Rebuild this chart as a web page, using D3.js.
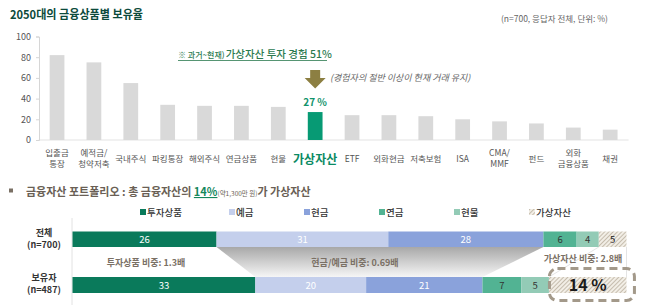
<!DOCTYPE html>
<html>
<head>
<meta charset="utf-8">
<script src="https://d3js.org/d3.v7.min.js"></script>
<style>
  body { margin: 0; background: #fff; }
  text { font-family: "Noto Sans CJK KR", "Noto Sans", sans-serif; }
</style>
</head>
<body>
<script>
  const W = 658, H = 305
  // top chart data
  const categories = ["입출금\n통장", "예적금/\n청약저축", "국내주식", "파킹통장", "해외주식", "연금상품", "현물", "가상자산",
    "ETF", "외화현금", "저축보험", "ISA", "CMA/\nMMF", "펀드", "외화\n금융상품", "채권"]
  const rates = [82, 75, 55, 34, 33, 33, 32, 27, 24, 24, 23, 20, 18, 16, 12, 10]
  const yTicks = [0, 20, 40, 60, 80, 100]
  const highlight = "가상자산"

  // bottom chart data
  const assetTypes = ["투자상품", "예금", "현금", "연금", "현물", "가상자산"]
  const groups = ["전체\n(n=700)", "보유자\n(n=487)"]
  const allShares = [26, 31, 28, 6, 4, 5]
  const holderShares = [33, 20, 21, 7, 5, 14]
  const assetColors = ["#0a7a5b", "#c4cfec", "#8aa2db", "#52b393", "#93cbb6", "url(#hatch)"]
  const labelColors = ["#fff", "#fff", "#fff", "#333", "#333", "#222"]

  const svg = d3.select("body").append("svg").attr("width", W).attr("height", H)
  const defs = svg.append("defs")

  const hatch = defs.append("pattern").attr("id", "hatch").attr("patternUnits", "userSpaceOnUse")
    .attr("width", 3).attr("height", 3).attr("patternTransform", "rotate(45)")
  hatch.append("rect").attr("width", 3).attr("height", 3).attr("fill", "#f2eee6")
  hatch.append("line").attr("x1", 0).attr("y1", 0).attr("x2", 0).attr("y2", 3)
    .attr("stroke", "#a89d88").attr("stroke-width", 1.2)

  const grad = defs.append("linearGradient").attr("id", "funnel").attr("x1", 0).attr("y1", 0).attr("x2", 0).attr("y2", 1)
  grad.append("stop").attr("offset", "0%").attr("stop-color", "#a8a8a8")
  grad.append("stop").attr("offset", "100%").attr("stop-color", "#f6f6f6")

  // ---------- title ----------
  svg.append("text").attr("x", 10).attr("y", 19).attr("font-size", 12).attr("font-weight", 700)
    .attr("fill", "#0c4a3b").attr("textLength", 133).attr("lengthAdjust", "spacingAndGlyphs")
    .text("2050대의 금융상품별 보유율")
  svg.append("text").attr("x", 608).attr("y", 22).attr("text-anchor", "end").attr("font-size", 8.5)
    .attr("fill", "#666").text("(n=700, 응답자 전체, 단위: %)")

  // ---------- top bar chart ----------
  const x = d3.scaleBand().domain(categories).range([38.6, 628.6]).paddingInner(0.6).paddingOuter(0.3)
  const y = d3.scaleLinear().domain([0, 100]).range([140, 36.5])

  svg.append("line").attr("x1", 38.6).attr("x2", 628.6).attr("y1", y(0)).attr("y2", y(0))
    .attr("stroke", "#e3e3e3")

  const yAxis = svg.append("g").attr("transform", "translate(39,0)")
    .call(d3.axisLeft(y).tickValues(yTicks).tickSize(3).tickPadding(5))
  yAxis.select(".domain").attr("stroke", "#d6d6d6")
  yAxis.selectAll(".tick line").attr("stroke", "#d6d6d6")
  yAxis.selectAll("text").attr("font-size", 9).attr("fill", "#555")
    .attr("font-family", "'Noto Sans CJK KR', sans-serif")

  svg.selectAll(".bar").data(categories).join("rect")
    .attr("x", d => x(d)).attr("width", x.bandwidth())
    .attr("y", (d, i) => y(rates[i])).attr("height", (d, i) => y(0) - y(rates[i]))
    .attr("fill", d => d === highlight ? "#079a74" : "#d9d9d9")

  categories.forEach((c, i) => {
    const lines = c.split("\n")
    const cx = x(c) + x.bandwidth() / 2
    const isHi = c === highlight
    const t = svg.append("text").attr("text-anchor", "middle")
      .attr("font-size", isHi ? 12 : 8.5).attr("font-weight", isHi ? 700 : 400)
      .attr("fill", isHi ? "#0a8a63" : "#555")
    const y0 = lines.length === 1 ? (isHi ? 164 : 162) : 156
    lines.forEach((l, k) => t.append("tspan").attr("x", cx).attr("y", y0 + k * 10.5).text(l))
  })

  // highlight annotations
  const hx = x(highlight) + x.bandwidth() / 2
  const hi = categories.indexOf(highlight)
  svg.append("text").attr("x", hx).attr("y", y(rates[hi]) - 6).attr("text-anchor", "middle")
    .attr("font-size", 10).attr("font-weight", 700).attr("fill", "#12936b").text(rates[hi] + " %")

  svg.append("path")
    .attr("d", `M${hx - 5},70 H${hx + 5} V78 H${hx + 10.5} L${hx},88.5 L${hx - 10.5},78 H${hx - 5} Z`)
    .attr("fill", "#8c7f42")
  svg.append("text").attr("x", 330).attr("y", 81).attr("font-size", 9).attr("font-style", "italic")
    .attr("fill", "#666").text("(경험자의 절반 이상이 현재 거래 유지)")

  const note = svg.append("text").attr("x", 178).attr("y", 58).attr("fill", "#2b7a4f").attr("font-weight", 500)
  note.append("tspan").attr("font-size", 8).text("※ 과거~현재)")
  note.append("tspan").attr("font-size", 10.5).attr("dx", 1).text("가상자산 투자 경험 51%")
  svg.append("line").attr("x1", 178).attr("x2", 327).attr("y1", 60.5).attr("y2", 60.5)
    .attr("stroke", "#2b7a4f").attr("stroke-width", 0.8)

  // ---------- bottom header ----------
  svg.append("rect").attr("x", 9).attr("y", 188.5).attr("width", 4).attr("height", 4).attr("fill", "#7a7065")
  const hdr = svg.append("text").attr("x", 26).attr("y", 196).attr("font-size", 11).attr("font-weight", 700)
    .attr("fill", "#6a5f55")
  hdr.append("tspan").text("금융자산 포트폴리오 : 총 금융자산의 ")
  hdr.append("tspan").attr("fill", "#14875c").attr("text-decoration", "underline").text("14%")
  hdr.append("tspan").attr("font-size", 6.5).attr("font-weight", 400).text("(약1,300만 원)")
  hdr.append("tspan").text("가 가상자산")

  // legend
  const legendX = [140, 229, 304, 379, 454, 529]
  assetTypes.forEach((a, i) => {
    svg.append("rect").attr("x", legendX[i]).attr("y", 209).attr("width", 6).attr("height", 6)
      .attr("fill", assetColors[i])
    svg.append("text").attr("x", legendX[i] + 7).attr("y", 216).attr("font-size", 9.5).attr("font-weight", 500)
      .attr("fill", "#333").text(a)
  })

  // ---------- stacked bars ----------
  const xs = d3.scaleLinear().domain([0, 100]).range([72.5, 626.5])
  const rowY = [231.5, 277]
  const rowH = [15.5, 16]
  const rows = [allShares, holderShares]

  svg.append("line").attr("x1", 72).attr("x2", 72).attr("y1", 218).attr("y2", 305).attr("stroke", "#e2e2e2")

  const stacks = rows.map(r => {
    let acc = 0
    return r.map(v => { const s = { x0: acc, x1: acc + v, v }; acc += v; return s })
  })

  // funnel between 예금+현금 spans
  const f0 = stacks[0], f1 = stacks[1]
  svg.append("path")
    .attr("d", `M${xs(f0[1].x0)},${rowY[0] + rowH[0]} L${xs(f0[2].x1)},${rowY[0] + rowH[0]} L${xs(f1[2].x1)},${rowY[1]} L${xs(f1[1].x0)},${rowY[1]} Z`)
    .attr("fill", "url(#funnel)")
  svg.append("line").attr("x1", xs(f0[5].x0)).attr("y1", rowY[0] + rowH[0]).attr("x2", xs(f1[5].x0)).attr("y2", rowY[1])
    .attr("stroke", "#e4e4e4")
  svg.append("line").attr("x1", xs(f0[5].x1)).attr("y1", rowY[0] + rowH[0]).attr("x2", xs(f1[5].x1)).attr("y2", rowY[1])
    .attr("stroke", "#e4e4e4")

  stacks.forEach((st, r) => {
    svg.append("g").selectAll("rect").data(st).join("rect")
      .attr("x", d => xs(d.x0)).attr("width", d => xs(d.x1) - xs(d.x0))
      .attr("y", rowY[r]).attr("height", rowH[r])
      .attr("fill", (d, i) => assetColors[i])
    st.forEach((d, i) => {
      if (r === 1 && i === 5) return
      svg.append("text").attr("x", (xs(d.x0) + xs(d.x1)) / 2).attr("y", rowY[r] + rowH[r] / 2 + 3.5)
        .attr("text-anchor", "middle").attr("font-size", 9.5).attr("fill", labelColors[i]).text(d.v)
    })
    const lines = groups[r].split("\n")
    const t = svg.append("text").attr("text-anchor", "middle").attr("font-size", 9).attr("font-weight", 700).attr("fill", "#333")
    lines.forEach((l, k) => t.append("tspan").attr("x", 44).attr("y", rowY[r] + 4 + k * 12).text(l))
  })

  // highlighted virtual asset cell in holder row
  const va = stacks[1][5]
  svg.append("rect").attr("x", xs(va.x0) + 0.5).attr("y", 268.5).attr("width", 85).attr("height", 32).attr("rx", 8)
    .attr("fill", "none").attr("stroke", "#a3998a").attr("stroke-width", 3).attr("stroke-dasharray", "8,5")
  svg.append("text").attr("x", (xs(va.x0) + xs(va.x1)) / 2).attr("y", 291).attr("text-anchor", "middle")
    .attr("font-size", 16).attr("font-weight", 700).attr("fill", "#1a1a1a").text(va.v + " %")

  // ratio notes
  const noteStyle = t => t.attr("font-size", 9).attr("font-weight", 700).attr("fill", "#7a7065")
  noteStyle(svg.append("text").attr("x", 146).attr("y", 266).attr("text-anchor", "middle")).text("투자상품 비중: 1.3배")
  noteStyle(svg.append("text").attr("x", 355).attr("y", 266).attr("text-anchor", "middle")).text("현금/예금 비중: 0.69배")
  noteStyle(svg.append("text").attr("x", 583).attr("y", 262).attr("text-anchor", "middle")).text("가상자산 비중: 2.8배")
</script>
</body>
</html>
